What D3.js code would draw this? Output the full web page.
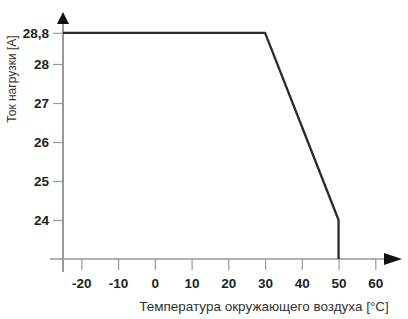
<!DOCTYPE html>
<html>
<head>
<meta charset="utf-8">
<script src="https://cdn.jsdelivr.net/npm/d3@7"></script>
<style>
  body { margin: 0; background: #fff; }
  svg { display: block; font-family: Arial, "Liberation Sans", sans-serif; }
</style>
</head>
<body>
<div id="chart"></div>
<script>
// derating curve: load current vs ambient temperature
const temps = [-25, 30, 50, 50];
const currents = [28.8, 28.8, 24, 23];
const xTicks = [-20, -10, 0, 10, 20, 30, 40, 50, 60];
const yTicks = [24, 25, 26, 27, 28, 28.8];
const xTitle = 'Температура окружающего воздуха [°C]';
const yTitle = 'Ток нагрузки [A]';

const width = 408;
const height = 319;

const svg = d3.select('#chart').append('svg')
  .attr('width', width)
  .attr('height', height);

const x = d3.scaleLinear().domain([-25, 60]).range([63, 375.3]);
const y = d3.scaleLinear().domain([23, 28.8]).range([259, 32.8]);

const axisColor = '#999';
const textColor = '#222';

// plain hyphen for negatives, comma as decimal mark
const fmt = d => String(d).replace('.', ',');

// x axis
const xAxis = svg.append('g')
  .attr('transform', `translate(0,${y(23)})`)
  .call(d3.axisBottom(x).tickValues(xTicks).tickSize(11).tickSizeOuter(0).tickPadding(8)
    .tickFormat(fmt));
xAxis.select('.domain').remove();
xAxis.append('line')
  .attr('x1', 50).attr('x2', 386)
  .attr('stroke', axisColor).attr('stroke-width', 1.3);
xAxis.selectAll('.tick line').attr('stroke', axisColor).attr('stroke-width', 1.2);
xAxis.selectAll('.tick text')
  .attr('fill', textColor)
  .style('font-size', '13.5px')
  .style('font-weight', 'bold');
xAxis.append('path')
  .attr('d', 'M384,-6L402,0L384,6Z')
  .attr('fill', '#111');

// y axis
const yAxis = svg.append('g')
  .attr('transform', `translate(${x(-25)},0)`)
  .call(d3.axisLeft(y).tickValues(yTicks).tickSize(10).tickSizeOuter(0).tickPadding(4)
    .tickFormat(fmt));
yAxis.select('.domain').remove();
yAxis.append('line')
  .attr('y1', 272).attr('y2', 22)
  .attr('stroke', axisColor).attr('stroke-width', 2);
yAxis.selectAll('.tick line').attr('stroke', axisColor).attr('stroke-width', 1.2);
yAxis.selectAll('.tick text')
  .attr('fill', textColor)
  .style('font-size', '13.5px')
  .style('font-weight', 'bold');
yAxis.append('path')
  .attr('d', 'M-6,24L0,12L6,24Z')
  .attr('fill', '#111');

// data line
const pts = temps.map((t, i) => [t, currents[i]]);
svg.append('path')
  .datum(pts)
  .attr('fill', 'none')
  .attr('stroke', '#2a2a2a')
  .attr('stroke-width', 2.3)
  .attr('stroke-linejoin', 'round')
  .attr('d', d3.line().x(d => x(d[0])).y(d => y(d[1])));

// titles
svg.append('text')
  .attr('x', 264)
  .attr('y', 311)
  .attr('text-anchor', 'middle')
  .attr('fill', '#333')
  .style('font-size', '13.5px')
  .text(xTitle);

svg.append('text')
  .attr('transform', 'translate(16,79) rotate(-90)')
  .attr('text-anchor', 'middle')
  .attr('fill', '#333')
  .style('font-size', '12px')
  .text(yTitle);
</script>
</body>
</html>
